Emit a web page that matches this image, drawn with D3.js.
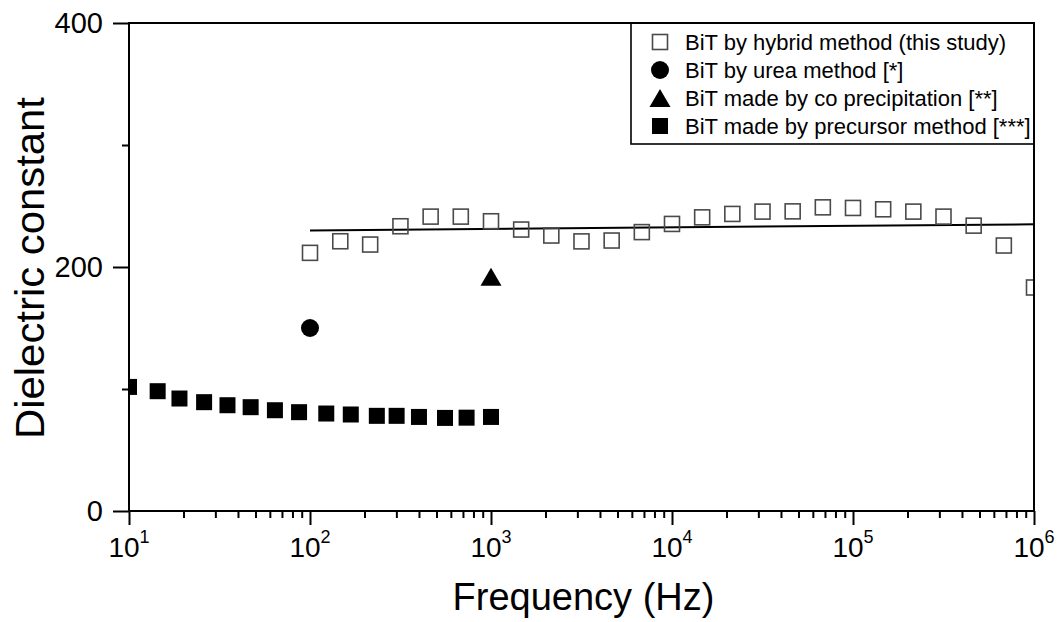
<!DOCTYPE html>
<html><head><meta charset="utf-8">
<script src="https://cdn.jsdelivr.net/npm/d3@7"></script>
<style>
html,body{margin:0;padding:0;background:#fff;}
svg{display:block;}
text{font-family:"Liberation Sans",Arial,Helvetica,sans-serif;fill:#000;}
</style></head>
<body>
<svg id="chart" width="1060" height="622"></svg>
<script>
// ---- data ----
const hybridFreq = [100, 147, 215, 316, 464, 681, 1000, 1468, 2154, 3162, 4642, 6813, 10000, 14678, 21544, 31623, 46416, 68129, 100000, 146780, 215440, 316230, 464160, 681290, 1000000];
const hybridVals = [211.6, 221.1, 218.4, 233.4, 241.3, 241.3, 237.5, 230.7, 225.8, 221.0, 221.7, 228.6, 235.3, 240.7, 243.5, 245.4, 245.6, 248.9, 248.4, 247.3, 245.4, 241.3, 233.9, 217.6, 183.2];
const fitFreq = [100, 1000000];
const fitVals = [230, 235];
const ureaFreq = [100];
const ureaVals = [150];
const coprecFreq = [1000];
const coprecVals = [192];
const precFreq = [10, 14.4, 19, 26, 35, 47, 64, 87, 123, 168, 234, 301, 400, 557, 733, 1000];
const precVals = [101.7, 98.2, 92.2, 89.2, 86.7, 85.1, 82.6, 81.0, 79.9, 79.1, 78.0, 78.0, 77.1, 76.3, 76.5, 77.1];
const xTickExps = [1, 2, 3, 4, 5, 6];
const yTickLabels = [0, 200, 400];
const yMinorTicks = [100, 300];
const legendLabels = ["BiT by hybrid method (this study)", "BiT by urea method [*]", "BiT made by co precipitation [**]", "BiT made by precursor method [***]"];

// ---- layout ----
const L = 129, R = 1034, T = 23, B = 511;
const svg = d3.select("#chart");
const x = d3.scaleLog().domain([10, 1e6]).range([L, R]);
const y = d3.scaleLinear().domain([0, 400]).range([B, T]);

svg.append("defs").append("clipPath").attr("id", "clip")
  .append("rect").attr("x", L).attr("y", T).attr("width", R - L).attr("height", B - T);

// x axis ticks
const xMinor = [];
for (let e = 1; e < 6; e++) for (let m = 2; m <= 9; m++) xMinor.push(m * Math.pow(10, e));
const xAxisMinor = d3.axisBottom(x).tickValues(xMinor).tickSize(7).tickFormat("");
const xAxisMajor = d3.axisBottom(x).tickValues(xTickExps.map(e => Math.pow(10, e))).tickSize(14).tickFormat("");
[xAxisMinor, xAxisMajor].forEach(ax => {
  const g = svg.append("g").attr("transform", `translate(0,${B})`).call(ax);
  g.select(".domain").remove();
  g.selectAll("line").attr("stroke", "#000").attr("stroke-width", 2);
});
// x labels
const xl = svg.append("g");
xTickExps.forEach(e => {
  const t = xl.append("text").attr("x", x(Math.pow(10, e))).attr("y", 557)
    .attr("text-anchor", "middle").attr("font-size", 28);
  t.append("tspan").text("10");
  t.append("tspan").attr("font-size", 18).attr("dy", -14).text(e);
});

// y axis ticks
const yAxisMajor = d3.axisLeft(y).tickValues(yTickLabels).tickSize(16).tickFormat("");
const yAxisMinor = d3.axisLeft(y).tickValues(yMinorTicks).tickSize(7).tickFormat("");
[yAxisMajor, yAxisMinor].forEach(ax => {
  const g = svg.append("g").attr("transform", `translate(${L},0)`).call(ax);
  g.select(".domain").remove();
  g.selectAll("line").attr("stroke", "#000").attr("stroke-width", 2);
});
svg.append("g").selectAll("text").data(yTickLabels).join("text")
  .attr("x", 103).attr("y", d => y(d) + 10).attr("text-anchor", "end")
  .attr("font-size", 29).text(d => d);

// frame
svg.append("rect").attr("x", L).attr("y", T).attr("width", R - L).attr("height", B - T)
  .attr("fill", "none").attr("stroke", "#000").attr("stroke-width", 2);

// axis titles
svg.append("text").attr("x", (L + R) / 2 + 2).attr("y", 610).attr("text-anchor", "middle")
  .attr("font-size", 38).text("Frequency (Hz)");
svg.append("text").attr("transform", `translate(44,${(T + B) / 2 + 1}) rotate(-90)`)
  .attr("text-anchor", "middle").attr("font-size", 40)
  .attr("textLength", 342).attr("lengthAdjust", "spacingAndGlyphs").text("Dielectric constant");

// marks
const plot = svg.append("g").attr("clip-path", "url(#clip)");
const lineGen = d3.line().x(d => x(d[0])).y(d => y(d[1]));
plot.append("path").datum(d3.zip(fitFreq, fitVals)).attr("d", lineGen)
  .attr("fill", "none").attr("stroke", "#000").attr("stroke-width", 2);

const sqOpen = 15, sqFill = 16;
plot.append("g").selectAll("rect").data(d3.zip(hybridFreq, hybridVals)).join("rect")
  .attr("x", d => x(d[0]) - sqOpen / 2).attr("y", d => y(d[1]) - sqOpen / 2)
  .attr("width", sqOpen).attr("height", sqOpen)
  .attr("fill", "none").attr("stroke", "#4a4a4a").attr("stroke-width", 1.6);

plot.append("g").selectAll("rect").data(d3.zip(precFreq, precVals)).join("rect")
  .attr("x", d => x(d[0]) - sqFill / 2).attr("y", d => y(d[1]) - sqFill / 2)
  .attr("width", sqFill).attr("height", sqFill).attr("fill", "#000");

plot.append("g").selectAll("circle").data(d3.zip(ureaFreq, ureaVals)).join("circle")
  .attr("cx", d => x(d[0])).attr("cy", d => y(d[1])).attr("r", 9).attr("fill", "#000");

function tri(cx, cy, w, h) {
  return `M${cx},${cy - h / 2}L${cx + w / 2},${cy + h / 2}L${cx - w / 2},${cy + h / 2}Z`;
}
plot.append("g").selectAll("path").data(d3.zip(coprecFreq, coprecVals)).join("path")
  .attr("d", d => tri(x(d[0]), y(d[1]), 21, 18)).attr("fill", "#000");

// legend
const lg = svg.append("g");
lg.append("rect").attr("x", 631).attr("y", T).attr("width", R - 631).attr("height", 144 - T)
  .attr("fill", "#fff").attr("stroke", "#000").attr("stroke-width", 1.6);
const rowY = i => 42 + i * 28;
const sx = 660;
lg.append("rect").attr("x", sx - 7.5).attr("y", rowY(0) - 7.5).attr("width", 15).attr("height", 15)
  .attr("fill", "none").attr("stroke", "#4a4a4a").attr("stroke-width", 1.6);
lg.append("circle").attr("cx", sx).attr("cy", rowY(1)).attr("r", 9).attr("fill", "#000");
lg.append("path").attr("d", tri(sx, rowY(2), 21, 18)).attr("fill", "#000");
lg.append("rect").attr("x", sx - 8).attr("y", rowY(3) - 8).attr("width", 16).attr("height", 16).attr("fill", "#000");
lg.selectAll("text.lbl").data(legendLabels).join("text").attr("class", "lbl")
  .attr("x", 685).attr("y", (d, i) => rowY(i) + 8).attr("font-size", 22).text(d => d);
// redraw frame top/right over legend
svg.append("path").attr("d", `M${L},${T}H${R}V${B}`).attr("fill", "none").attr("stroke", "#000").attr("stroke-width", 2);
</script>
</body></html>
